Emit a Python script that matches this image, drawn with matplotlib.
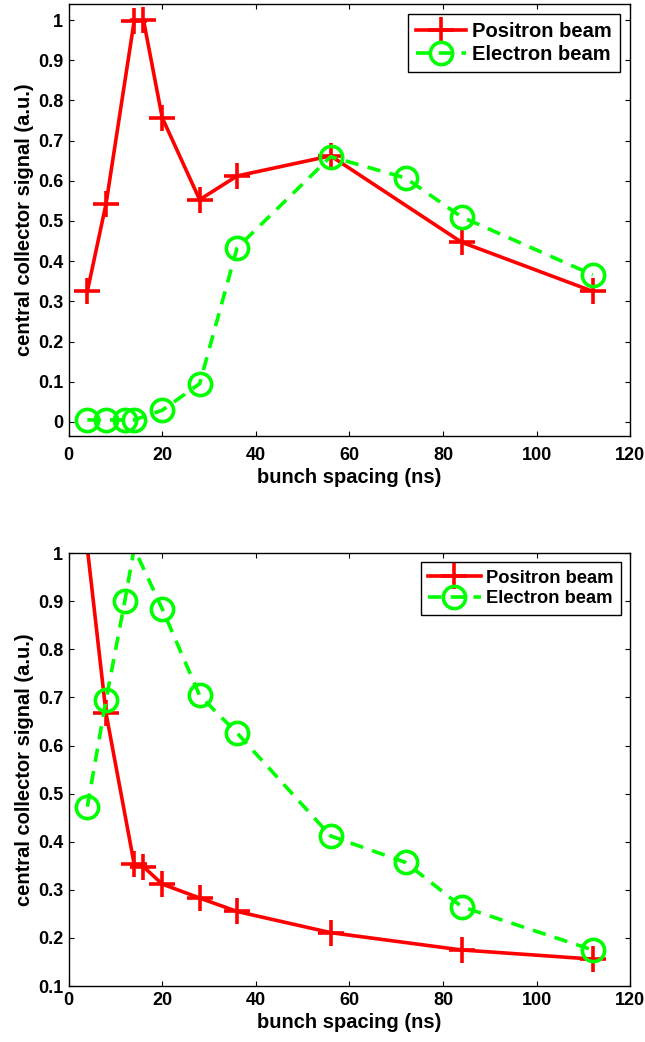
import numpy as np
import matplotlib
matplotlib.use("Agg")
import matplotlib.pyplot as plt
from matplotlib.ticker import FormatStrFormatter, MultipleLocator

plt.rcParams['font.family'] = ['Liberation Sans', 'DejaVu Sans']
plt.rcParams['font.weight'] = 'bold'

# ---- data: top panel ----
top_pos_x = [4, 8, 14, 16, 20, 28, 36, 56, 84, 112]
top_pos_y = [0.325, 0.543, 0.997, 1.0, 0.757, 0.553, 0.612, 0.662, 0.447, 0.325]
top_ele_x = [4, 8, 12, 14, 20, 28, 36, 56, 72, 84, 112]
top_ele_y = [0.005, 0.005, 0.005, 0.005, 0.029, 0.095, 0.433, 0.660, 0.607, 0.510, 0.366]

# ---- data: bottom panel ----
bot_pos_x = [4, 8, 14, 16, 20, 28, 36, 56, 84, 112]
bot_pos_y = [1.01, 0.667, 0.354, 0.348, 0.312, 0.283, 0.255, 0.211, 0.175, 0.156]
bot_ele_x = [4, 8, 12, 14, 20, 28, 36, 56, 72, 84, 112]
bot_ele_y = [0.473, 0.695, 0.900, 1.01, 0.884, 0.704, 0.626, 0.412, 0.357, 0.265, 0.175]

labels = ["Positron beam", "Electron beam"]
xlabel = "bunch spacing (ns)"
ylabel = "central collector signal (a.u.)"

RED = (1, 0, 0)
GREEN = (0, 1, 0)

fig = plt.figure(figsize=(6.45, 10.42), dpi=100)
ax1 = fig.add_axes([0.1064, 0.5816, 0.8705, 0.4146])
ax2 = fig.add_axes([0.1064, 0.0537, 0.8705, 0.4155])


def draw(ax, px, py, ex, ey, ylim, yticks, legfs, hlen, xpad):
    def vis(y):
        return [i for i, v in enumerate(y) if ylim[0] <= v <= ylim[1]]
    ax.plot(px, py, '-', color=RED, lw=2.6, marker='+', ms=18.5, mew=2.6,
            markevery=vis(py), label=labels[0])
    ax.plot(ex, ey, '--', color=GREEN, lw=2.6, marker='o', ms=16, mew=2.6,
            mfc='none', markevery=vis(ey), dashes=(3.7, 2.6), label=labels[1])
    ax.set_xlim(0, 120)
    ax.set_ylim(*ylim)
    ax.xaxis.set_major_locator(MultipleLocator(20))
    ax.set_yticks(yticks)
    ax.yaxis.set_major_formatter(FormatStrFormatter('%g'))
    ax.tick_params(direction='in', length=3.6, width=0.8, top=True, right=True,
                   labelsize=13)
    ax.tick_params(axis='x', pad=xpad)
    ax.tick_params(axis='y', pad=4)
    for lab in ax.get_xticklabels() + ax.get_yticklabels():
        lab.set_fontweight('bold')
    for s in ax.spines.values():
        s.set_linewidth(1.0)
    ax.set_xlabel(xlabel, fontsize=14.5, fontweight='bold', labelpad=3)
    ax.set_ylabel(ylabel, fontsize=14.5, fontweight='bold', labelpad=3)
    leg = ax.legend(loc='upper right', fontsize=legfs, numpoints=1,
                    fancybox=False, framealpha=1, edgecolor='black',
                    handlelength=hlen, handletextpad=0.3, borderpad=0.4,
                    labelspacing=0.2, borderaxespad=0.5)
    leg.get_frame().set_linewidth(1.0)
    for t in leg.get_texts():
        t.set_fontweight('bold')


draw(ax1, top_pos_x, top_pos_y, top_ele_x, top_ele_y, (-0.035, 1.04),
     np.round(np.arange(0, 1.01, 0.1), 1), 14.5, 2.5, 8)
draw(ax2, bot_pos_x, bot_pos_y, bot_ele_x, bot_ele_y, (0.1, 1.0),
     np.round(np.arange(0.1, 1.01, 0.1), 1), 13.2, 2.85, 4)

fig.savefig("out.png", dpi=100)
